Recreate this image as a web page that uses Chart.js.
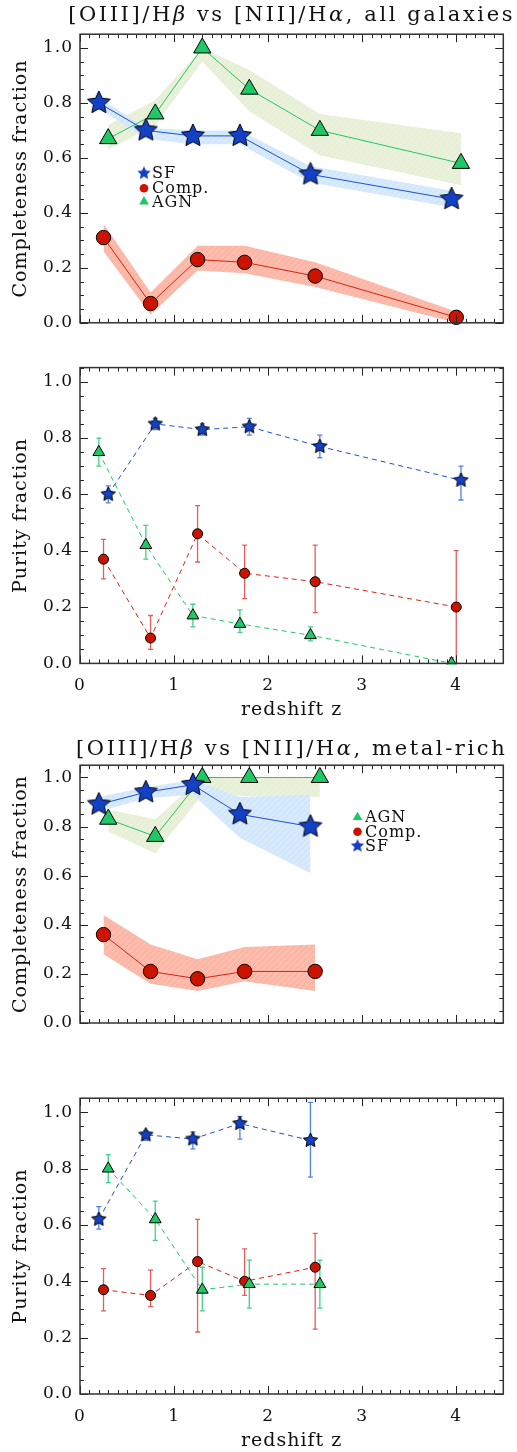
<!DOCTYPE html>
<html>
<head>
<meta charset="utf-8">
<script src="https://cdn.jsdelivr.net/npm/chart.js@4.4.1/dist/chart.umd.min.js"></script>
<style>
  body { margin: 0; background: #fff; width: 517px; height: 1452px; position: relative; overflow: hidden; }
  canvas { position: absolute; left: 0; }
</style>
</head>
<body>
<canvas id="allComplete" width="517" height="340" style="top:0px"></canvas>
<canvas id="allPurity" width="517" height="382" style="top:340px"></canvas>
<canvas id="richComplete" width="517" height="353" style="top:722px"></canvas>
<canvas id="richPurity" width="517" height="377" style="top:1075px"></canvas>
<script>
// ---- axis ticks ----
const X_TICKS = [0, 1, 2, 3, 4];
const Y_TICKS = [0, 0.2, 0.4, 0.6, 0.8, 1.0];

// ---- completeness, all galaxies ----
const allCompZSF = [0.20, 0.70, 1.20, 1.70, 2.45, 3.95];
const allCompSF = [0.80, 0.70, 0.68, 0.68, 0.54, 0.45];
const allCompSFLo = [0.78, 0.67, 0.65, 0.65, 0.51, 0.42];
const allCompSFHi = [0.82, 0.71, 0.70, 0.70, 0.57, 0.48];

const allCompZComp = [0.25, 0.75, 1.25, 1.75, 2.50, 4.00];
const allCompComp = [0.31, 0.07, 0.23, 0.22, 0.17, 0.02];
const allCompCompLo = [0.26, 0.03, 0.19, 0.18, 0.13, 0.00];
const allCompCompHi = [0.36, 0.11, 0.28, 0.28, 0.22, 0.04];

const allCompZAGN = [0.30, 0.80, 1.30, 1.80, 2.55, 4.05];
const allCompAGN = [0.67, 0.76, 1.00, 0.85, 0.70, 0.58];
const allCompAGNLo = [0.63, 0.72, 0.95, 0.77, 0.61, 0.50];
const allCompAGNHi = [0.72, 0.81, 1.00, 0.92, 0.76, 0.69];

// ---- purity, all galaxies ----
const allPurZSF = [0.30, 0.80, 1.30, 1.80, 2.55, 4.05];
const allPurSF = [0.60, 0.85, 0.83, 0.84, 0.77, 0.65];
const allPurSFLo = [0.57, 0.83, 0.81, 0.81, 0.73, 0.58];
const allPurSFHi = [0.63, 0.87, 0.85, 0.87, 0.81, 0.70];

const allPurZComp = [0.25, 0.75, 1.25, 1.75, 2.50, 4.00];
const allPurComp = [0.37, 0.09, 0.46, 0.32, 0.29, 0.20];
const allPurCompLo = [0.30, 0.05, 0.36, 0.23, 0.18, 0.00];
const allPurCompHi = [0.44, 0.17, 0.56, 0.42, 0.42, 0.40];

const allPurZAGN = [0.20, 0.70, 1.20, 1.70, 2.45, 3.95];
const allPurAGN = [0.75, 0.42, 0.17, 0.14, 0.10, 0.00];
const allPurAGNLo = [0.70, 0.37, 0.13, 0.11, 0.08, 0.00];
const allPurAGNHi = [0.80, 0.49, 0.21, 0.19, 0.13, 0.02];

// ---- completeness, metal-rich ----
const richCompZSF = [0.20, 0.70, 1.20, 1.70, 2.45];
const richCompSF = [0.89, 0.94, 0.97, 0.85, 0.80];
const richCompSFLo = [0.86, 0.915, 0.93, 0.755, 0.61];
const richCompSFHi = [0.92, 0.96, 0.99, 0.92, 0.93];

const richCompZComp = [0.25, 0.75, 1.25, 1.75, 2.50];
const richCompComp = [0.36, 0.21, 0.18, 0.21, 0.21];
const richCompCompLo = [0.28, 0.16, 0.13, 0.17, 0.13];
const richCompCompHi = [0.44, 0.32, 0.26, 0.31, 0.32];

const richCompZAGN = [0.30, 0.80, 1.30, 1.80, 2.55];
const richCompAGN = [0.83, 0.76, 1.00, 1.00, 1.00];
const richCompAGNLo = [0.78, 0.69, 0.93, 0.925, 0.92];
const richCompAGNHi = [0.87, 0.83, 1.00, 1.00, 1.00];

// ---- purity, metal-rich ----
const richPurZSF = [0.20, 0.70, 1.20, 1.70, 2.45];
const richPurSF = [0.62, 0.92, 0.905, 0.96, 0.90];
const richPurSFLo = [0.585, 0.90, 0.87, 0.905, 0.77];
const richPurSFHi = [0.665, 0.935, 0.93, 0.985, 1.035];

const richPurZComp = [0.25, 0.75, 1.25, 1.75, 2.50];
const richPurComp = [0.37, 0.35, 0.47, 0.40, 0.45];
const richPurCompLo = [0.295, 0.31, 0.22, 0.35, 0.23];
const richPurCompHi = [0.445, 0.44, 0.62, 0.515, 0.57];

const richPurZAGN = [0.30, 0.80, 1.30, 1.80, 2.55];
const richPurAGN = [0.80, 0.62, 0.37, 0.39, 0.39];
const richPurAGNLo = [0.75, 0.545, 0.295, 0.305, 0.305];
const richPurAGNHi = [0.85, 0.685, 0.45, 0.475, 0.475];

const FONT = '"DejaVu Serif", "Liberation Serif", serif';
const INK = '#111';

const COLORS = {
    sf: { fill: '#1340c4', line: '#1f4fd6', err: '#4f84e2', band: '#d2e7fb', stripe: '#dcedfc' },
    comp: { fill: '#cc1300', line: '#d42414', err: '#e25f5c', band: '#fbb6a6', stripe: '#fcc2b4' },
    agn: { fill: '#1fc865', line: '#22c866', err: '#3fd185', band: '#e7efd6', stripe: '#edf3e0' },
};

const pts = (xs, ys) => xs.map((x, i) => ({ x, y: ys[i] }));

// Filled five-point star with a thin black outline, used as a point style
const makeStar = (R, fill, outline = true) => {
    const size = Math.ceil(2 * R + 4);
    const c = document.createElement('canvas');
    c.width = size;
    c.height = size;
    const g = c.getContext('2d');
    g.beginPath();
    for (let i = 0; i < 10; i++) {
        const r = i % 2 ? R * 0.48 : R;
        const a = -Math.PI / 2 + i * Math.PI / 5;
        const px = size / 2 + r * Math.cos(a);
        const py = size / 2 + r * Math.sin(a);
        if (i === 0) g.moveTo(px, py); else g.lineTo(px, py);
    }
    g.closePath();
    g.fillStyle = fill;
    g.fill();
    if (outline) {
        g.strokeStyle = '#000';
        g.lineWidth = 1;
        g.stroke();
    }
    return c;
};

// Light diagonal hatching for the shaded uncertainty bands
const hatch = (base, stripe) => {
    const c = document.createElement('canvas');
    c.width = 6;
    c.height = 6;
    const g = c.getContext('2d');
    g.fillStyle = base;
    g.fillRect(0, 0, 6, 6);
    g.strokeStyle = stripe;
    g.lineWidth = 1.2;
    g.beginPath();
    g.moveTo(0, 6); g.lineTo(6, 0);
    g.moveTo(-1, 1); g.lineTo(1, -1);
    g.moveTo(5, 7); g.lineTo(7, 5);
    g.stroke();
    return g.createPattern(c, 'repeat');
};

const band = (xs, lo, hi, col) => [
    { data: pts(xs, hi), fill: '+1', backgroundColor: hatch(col.band, col.stripe), borderColor: 'rgba(0,0,0,0)', borderWidth: 0, pointRadius: 0, order: 10 },
    { data: pts(xs, lo), fill: false, borderColor: 'rgba(0,0,0,0)', borderWidth: 0, pointRadius: 0, order: 10 },
];

const series = (xs, ys, col, marker, opts = {}) => ({
    data: pts(xs, ys),
    borderColor: col.line,
    borderWidth: 1,
    borderDash: opts.dash || [],
    tension: 0,
    fill: false,
    pointStyle: marker.style,
    pointRadius: marker.radius,
    pointBackgroundColor: col.fill,
    pointBorderColor: '#000',
    pointBorderWidth: 1,
    clip: opts.clip === undefined ? false : opts.clip,
    order: opts.order || 0,
});

const bigMarkers = {
    sf: { style: makeStar(12, COLORS.sf.fill), radius: 12 },
    comp: { style: 'circle', radius: 7.2 },
    agn: { style: 'triangle', radius: 10 },
};
const smallMarkers = {
    sf: { style: makeStar(7.5, COLORS.sf.fill), radius: 7.5 },
    comp: { style: 'circle', radius: 5 },
    agn: { style: 'triangle', radius: 6.8 },
};

// IDL-like text spacing for every label drawn on the canvas
const spacingPlugin = {
    id: 'spacing',
    beforeDraw(chart) {
        chart.ctx.letterSpacing = '1px';
    },
};

// Plot box with inward ticks on all four sides
const framePlugin = {
    id: 'frame',
    afterDraw(chart) {
        const { ctx, chartArea: a, scales: { x, y } } = chart;
        ctx.save();
        ctx.strokeStyle = '#222';
        ctx.lineWidth = 1;
        ctx.beginPath();
        for (let i = 0; i <= 45; i++) {
            const px = Math.round(x.getPixelForValue(i / 10)) + 0.5;
            const len = i % 10 === 0 ? 8 : 4;
            ctx.moveTo(px, a.bottom); ctx.lineTo(px, a.bottom - len);
            ctx.moveTo(px, a.top); ctx.lineTo(px, a.top + len);
        }
        for (let i = 0; i <= 21; i++) {
            const py = Math.round(y.getPixelForValue(i * 0.05)) + 0.5;
            const len = i % 4 === 0 ? 8 : 4;
            ctx.moveTo(a.left, py); ctx.lineTo(a.left + len, py);
            ctx.moveTo(a.right, py); ctx.lineTo(a.right - len, py);
        }
        ctx.stroke();
        ctx.strokeStyle = '#333';
        ctx.lineWidth = 1.5;
        ctx.strokeRect(a.left, a.top, a.right - a.left, a.bottom - a.top);
        ctx.restore();
    },
};

const errorBars = (sets) => ({
    id: 'errorBars',
    beforeDatasetsDraw(chart) {
        const { ctx, scales: { x, y } } = chart;
        ctx.save();
        ctx.lineWidth = 1.3;
        sets.forEach((set) => {
            ctx.strokeStyle = set.color;
            ctx.beginPath();
            set.x.forEach((xv, i) => {
                const px = x.getPixelForValue(xv);
                const top = y.getPixelForValue(set.hi[i]);
                const bot = y.getPixelForValue(set.lo[i]);
                ctx.moveTo(px, top); ctx.lineTo(px, bot);
                ctx.moveTo(px - 2.5, top); ctx.lineTo(px + 2.5, top);
                ctx.moveTo(px - 2.5, bot); ctx.lineTo(px + 2.5, bot);
            });
            ctx.stroke();
        });
        ctx.restore();
    },
});

// Title with italic Greek letters, centred over the plot box
const titlePlugin = (parts, baseline) => ({
    id: 'panelTitle',
    afterDraw(chart) {
        const { ctx, chartArea: a } = chart;
        ctx.save();
        ctx.fillStyle = INK;
        ctx.textAlign = 'left';
        ctx.textBaseline = 'alphabetic';
        ctx.letterSpacing = '2.6px';
        const fonts = parts.map(([, italic]) => (italic ? 'italic ' : '') + '21px ' + FONT);
        const widths = parts.map(([text], i) => {
            ctx.font = fonts[i];
            return ctx.measureText(text).width;
        });
        let x = (a.left + a.right) / 2 - widths.reduce((s, w) => s + w, 0) / 2;
        parts.forEach(([text], i) => {
            ctx.font = fonts[i];
            ctx.fillText(text, x, baseline);
            x += widths[i];
        });
        ctx.restore();
    },
});

const legendMarks = {
    SF: (ctx, x, y) => {
        const img = makeStar(7, COLORS.sf.fill, false);
        ctx.drawImage(img, x - img.width / 2, y - img.height / 2);
    },
    'Comp.': (ctx, x, y) => {
        ctx.fillStyle = COLORS.comp.fill;
        ctx.beginPath();
        ctx.arc(x, y, 4.3, 0, Math.PI * 2);
        ctx.fill();
    },
    AGN: (ctx, x, y) => {
        const r = 5.6;
        ctx.fillStyle = COLORS.agn.fill;
        ctx.beginPath();
        for (let k = 0; k < 3; k++) {
            const ang = k * 2 * Math.PI / 3;
            const px = x + Math.sin(ang) * r;
            const py = y - Math.cos(ang) * r;
            if (k === 0) ctx.moveTo(px, py); else ctx.lineTo(px, py);
        }
        ctx.closePath();
        ctx.fill();
    },
};

const legendPlugin = (labels, markX, textX, rows) => ({
    id: 'panelLegend',
    afterDraw(chart) {
        const { ctx } = chart;
        ctx.save();
        ctx.font = '16px ' + FONT;
        ctx.textAlign = 'left';
        ctx.textBaseline = 'middle';
        labels.forEach((label, i) => {
            legendMarks[label](ctx, markX, rows[i]);
            ctx.fillStyle = INK;
            ctx.fillText(label, textX, rows[i] + 1);
        });
        ctx.restore();
    },
});

const buildChart = (id, cfg) => new Chart(document.getElementById(id), {
    type: 'line',
    data: { datasets: cfg.datasets },
    options: {
        responsive: false,
        animation: false,
        devicePixelRatio: 1,
        events: [],
        layout: { autoPadding: false, padding: { top: cfg.top, right: 13.7, bottom: 0, left: 0 } },
        plugins: { legend: { display: false }, tooltip: { enabled: false } },
        scales: {
            x: {
                type: 'linear',
                min: 0,
                max: 4.5,
                grid: { display: false, drawTicks: false },
                border: { display: false },
                afterBuildTicks: (scale) => { scale.ticks = X_TICKS.map((v) => ({ value: v })); },
                afterFit: (scale) => { scale.height = cfg.xHeight; },
                ticks: { display: cfg.showX, padding: 12, color: INK, font: { family: FONT, size: 17 }, callback: (v) => String(v) },
                title: { display: cfg.showX, text: 'redshift z', color: INK, font: { family: FONT, size: 19 }, padding: { top: 0, bottom: cfg.titleGap || 0 } },
            },
            y: {
                type: 'linear',
                min: 0,
                max: 1.05,
                grid: { display: false, drawTicks: false },
                border: { display: false },
                afterBuildTicks: (scale) => { scale.ticks = Y_TICKS.map((v) => ({ value: v })); },
                afterFit: (scale) => { scale.width = 80; },
                ticks: { padding: 7, color: INK, font: { family: FONT, size: 17 }, callback: (v) => v.toFixed(1) },
                title: { display: true, text: cfg.yTitle, color: INK, font: { family: FONT, size: 19 }, padding: { top: 10, bottom: 0 } },
            },
        },
    },
    plugins: [spacingPlugin, framePlugin, ...(cfg.plugins || [])],
});

const purityClip = { left: 20, top: 20, right: 20, bottom: 1 };

buildChart('allComplete', {
    top: 34.2,
    xHeight: 10,
    showX: false,
    yTitle: 'Completeness fraction',
    datasets: [
        ...band(allCompZSF, allCompSFLo, allCompSFHi, COLORS.sf),
        ...band(allCompZComp, allCompCompLo, allCompCompHi, COLORS.comp),
        ...band(allCompZAGN, allCompAGNLo, allCompAGNHi, COLORS.agn),
        series(allCompZComp, allCompComp, COLORS.comp, bigMarkers.comp, { order: 2 }),
        series(allCompZAGN, allCompAGN, COLORS.agn, bigMarkers.agn, { order: 1 }),
        series(allCompZSF, allCompSF, COLORS.sf, bigMarkers.sf, { order: 0 }),
    ],
    plugins: [
        titlePlugin([['[OIII]/H', false], ['β', true], [' vs [NII]/H', false], ['α', true], [', all galaxies', false]], 21),
        legendPlugin(['SF', 'Comp.', 'AGN'], 144, 152, [173.3, 188.3, 201.7]),
    ],
});

buildChart('allPurity', {
    top: 27.6,
    xHeight: 58.6,
    showX: true,
    titleGap: 1,
    yTitle: 'Purity fraction',
    datasets: [
        series(allPurZComp, allPurComp, COLORS.comp, smallMarkers.comp, { dash: [5, 4], clip: purityClip, order: 2 }),
        series(allPurZAGN, allPurAGN, COLORS.agn, smallMarkers.agn, { dash: [5, 4], clip: purityClip, order: 1 }),
        series(allPurZSF, allPurSF, COLORS.sf, smallMarkers.sf, { dash: [5, 4], clip: purityClip, order: 0 }),
    ],
    plugins: [
        errorBars([
            { x: allPurZComp, lo: allPurCompLo, hi: allPurCompHi, color: COLORS.comp.err },
            { x: allPurZAGN, lo: allPurAGNLo, hi: allPurAGNHi, color: COLORS.agn.err },
            { x: allPurZSF, lo: allPurSFLo, hi: allPurSFHi, color: COLORS.sf.err },
        ]),
    ],
});

buildChart('richComplete', {
    top: 43.2,
    xHeight: 52,
    showX: false,
    yTitle: 'Completeness fraction',
    datasets: [
        ...band(richCompZSF, richCompSFLo, richCompSFHi, COLORS.sf),
        ...band(richCompZComp, richCompCompLo, richCompCompHi, COLORS.comp),
        ...band(richCompZAGN, richCompAGNLo, richCompAGNHi, COLORS.agn),
        series(richCompZComp, richCompComp, COLORS.comp, bigMarkers.comp, { order: 2 }),
        series(richCompZAGN, richCompAGN, COLORS.agn, bigMarkers.agn, { order: 1 }),
        series(richCompZSF, richCompSF, COLORS.sf, bigMarkers.sf, { order: 0 }),
    ],
    plugins: [
        titlePlugin([['[OIII]/H', false], ['β', true], [' vs [NII]/H', false], ['α', true], [', metal-rich', false]], 33),
        legendPlugin(['AGN', 'Comp.', 'SF'], 357.5, 365, [95.3, 109.7, 124]),
    ],
});

buildChart('richPurity', {
    top: 23.2,
    xHeight: 58,
    showX: true,
    titleGap: 0,
    yTitle: 'Purity fraction',
    datasets: [
        series(richPurZComp, richPurComp, COLORS.comp, smallMarkers.comp, { dash: [5, 4], clip: purityClip, order: 2 }),
        series(richPurZAGN, richPurAGN, COLORS.agn, smallMarkers.agn, { dash: [5, 4], clip: purityClip, order: 1 }),
        series(richPurZSF, richPurSF, COLORS.sf, smallMarkers.sf, { dash: [5, 4], clip: purityClip, order: 0 }),
    ],
    plugins: [
        errorBars([
            { x: richPurZComp, lo: richPurCompLo, hi: richPurCompHi, color: COLORS.comp.err },
            { x: richPurZAGN, lo: richPurAGNLo, hi: richPurAGNHi, color: COLORS.agn.err },
            { x: richPurZSF, lo: richPurSFLo, hi: richPurSFHi, color: COLORS.sf.err },
        ]),
    ],
});
</script>
</body>
</html>
